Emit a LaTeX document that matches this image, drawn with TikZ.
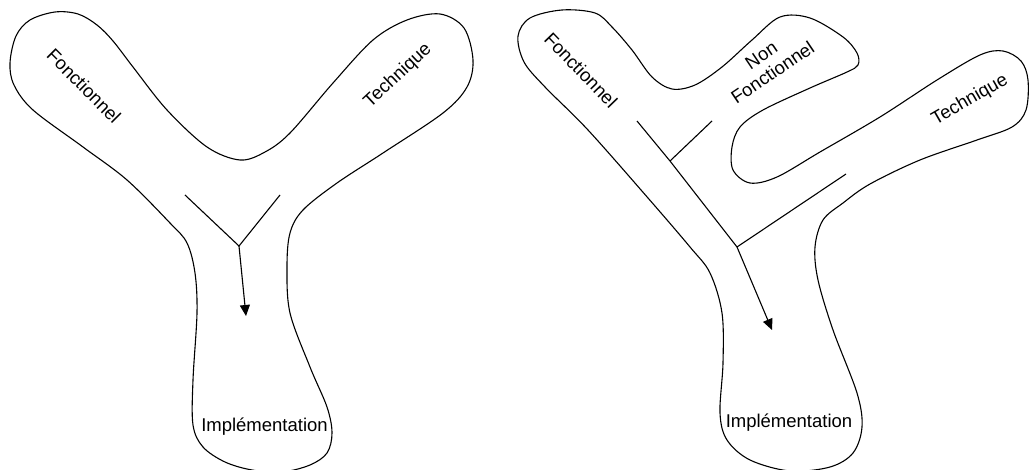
\documentclass[tikz,border=0pt]{standalone}
\usepackage{fontspec}
\setmainfont{Liberation Sans}
\usetikzlibrary{arrows.meta}
\begin{document}
\begin{tikzpicture}[x=1pt,y=-1pt,
  outline/.style={draw=black,line width=1.1pt,line join=round},
  stroke/.style={draw=black,line width=1.1pt},
  flow/.style={draw=black,line width=1.1pt,-{Triangle[length=11pt,width=10pt]}},
  lbl/.style={font=\fontsize{18.5}{20.5}\selectfont,inner sep=0pt,align=center}]
\useasboundingbox (0,0) rectangle (1029,470);
% ---------- left diagram ----------
\draw[outline] plot[smooth cycle,tension=0.55] coordinates {
 (10,63) (16,36) (30,20) (55,12) (78,14) (97,25) (113,41) (133,67) (167,110) (207,147)
 (240,160) (265,152) (290,133) (333,83) (373,40) (407,20) (440,14) (464,28) (473,60)
 (467,87) (443,113) (383,153) (337,183) (303,210) (290,233) (287,267) (290,313)
 (310,367) (327,407) (332,433) (327,453) (310,465) (282,472) (252,470) (225,462)
 (203,447) (193,425) (193,380) (197,313) (195,273) (187,243) (170,223) (127,180)
 (83,147) (33,110) (14,85)};
\coordinate (lvA) at (185,195);
\coordinate (lvB) at (280,195);
\coordinate (lvJ) at (239,246);
\coordinate (lvT) at (246,316);
\draw[stroke,line join=miter] (lvA) -- (lvJ) -- (lvB);
\draw[flow] (lvJ) -- (lvT);
\node[lbl,rotate=-45] (lf) at (84,86) {Fonctionnel};
\node[lbl,rotate=43] (lt) at (398,76) {Technique};
\node[lbl] (li) at (264.5,427) {Implémentation};
% ---------- right diagram ----------
\draw[outline] plot[smooth cycle,tension=0.55] coordinates {
 (518,36) (530,18) (562,10) (595,13) (612,27) (632,50) (652,77) (672,89) (695,85)
 (722,67) (752,40) (780,17) (810,18) (843,37) (857,53) (858,65) (847,72) (810,88)
 (763,110) (740,127) (732,147) (733,170) (750,183) (777,177) (820,152) (880,117)
 (937,80) (980,55) (1003,51) (1021,61) (1028,80) (1026,110) (1012,127) (977,140)
 (920,160) (870,184) (843,203) (823,220) (815,247) (818,280) (833,330) (857,393)
 (862,427) (853,453) (830,467) (790,471) (750,460) (727,440) (720,413) (723,363)
 (722,313) (710,273) (690,247) (648,198) (588,130) (545,87) (524,62)};
\coordinate (rm0) at (637,121);
\coordinate (rb1) at (670,161);
\coordinate (rb1e) at (712,121);
\coordinate (rmJ) at (737,247);
\coordinate (rb2e) at (846,174);
\coordinate (rT) at (772,330);
\draw[stroke] (rm0) -- (rb1) -- (rmJ);
\draw[stroke] (rb1) -- (rb1e);
\draw[stroke] (rmJ) -- (rb2e);
\draw[flow] (rmJ) -- (rT);
\node[lbl,rotate=-46] (rf) at (581,70) {Fonctionnel};
\node[lbl,rotate=34] (rn) at (767,64) {Non\\Fonctionnel};
\node[lbl,rotate=30] (rt) at (970,100) {Technique};
\node[lbl] (ri) at (789,423) {Implémentation};
\end{tikzpicture}
\end{document}
